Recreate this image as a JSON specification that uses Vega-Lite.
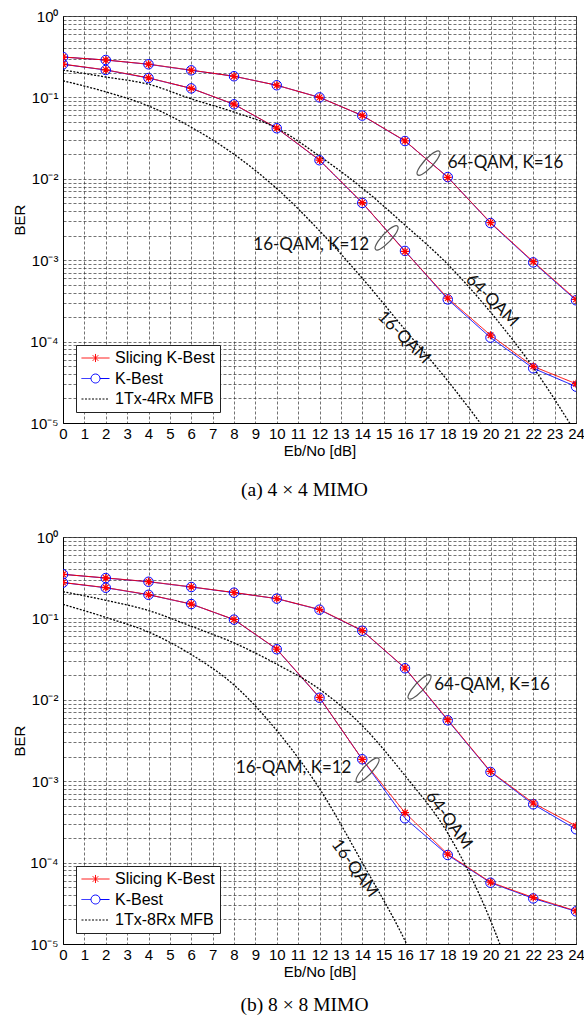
{
  "$schema": "https://vega.github.io/schema/vega-lite/v6.json",
  "background": "white",
  "padding": {"left": 11, "top": 8, "right": 0, "bottom": 0},
  "spacing": 114,
  "bounds": "flush",
  "datasets": {
    "curves": [
      {"panel":"a","series":"K-Best","curve":"64","x":0,"y":0.313},{"panel":"a","series":"K-Best","curve":"64","x":2,"y":0.288},{"panel":"a","series":"K-Best","curve":"64","x":4,"y":0.255},{"panel":"a","series":"K-Best","curve":"64","x":6,"y":0.215},{"panel":"a","series":"K-Best","curve":"64","x":8,"y":0.182},{"panel":"a","series":"K-Best","curve":"64","x":10,"y":0.141},{"panel":"a","series":"K-Best","curve":"64","x":12,"y":0.1},{"panel":"a","series":"K-Best","curve":"64","x":14,"y":0.0598},{"panel":"a","series":"K-Best","curve":"64","x":16,"y":0.0291},{"panel":"a","series":"K-Best","curve":"64","x":18,"y":0.0105},{"panel":"a","series":"K-Best","curve":"64","x":20,"y":0.00286},{"panel":"a","series":"K-Best","curve":"64","x":22,"y":0.00094},{"panel":"a","series":"K-Best","curve":"64","x":24,"y":0.000322},
      {"panel":"a","series":"K-Best","curve":"16","x":0,"y":0.255},{"panel":"a","series":"K-Best","curve":"16","x":2,"y":0.217},{"panel":"a","series":"K-Best","curve":"16","x":4,"y":0.173},{"panel":"a","series":"K-Best","curve":"16","x":6,"y":0.129},{"panel":"a","series":"K-Best","curve":"16","x":8,"y":0.0822},{"panel":"a","series":"K-Best","curve":"16","x":10,"y":0.0418},{"panel":"a","series":"K-Best","curve":"16","x":12,"y":0.0169},{"panel":"a","series":"K-Best","curve":"16","x":14,"y":0.00505},{"panel":"a","series":"K-Best","curve":"16","x":16,"y":0.0013},{"panel":"a","series":"K-Best","curve":"16","x":18,"y":0.00033},{"panel":"a","series":"K-Best","curve":"16","x":20,"y":0.000112},{"panel":"a","series":"K-Best","curve":"16","x":22,"y":0.000047},{"panel":"a","series":"K-Best","curve":"16","x":24,"y":0.000028},
      {"panel":"a","series":"Slicing K-Best","curve":"64","x":0,"y":0.313},{"panel":"a","series":"Slicing K-Best","curve":"64","x":2,"y":0.288},{"panel":"a","series":"Slicing K-Best","curve":"64","x":4,"y":0.256},{"panel":"a","series":"Slicing K-Best","curve":"64","x":6,"y":0.216},{"panel":"a","series":"Slicing K-Best","curve":"64","x":8,"y":0.182},{"panel":"a","series":"Slicing K-Best","curve":"64","x":10,"y":0.141},{"panel":"a","series":"Slicing K-Best","curve":"64","x":12,"y":0.1},{"panel":"a","series":"Slicing K-Best","curve":"64","x":14,"y":0.06},{"panel":"a","series":"Slicing K-Best","curve":"64","x":16,"y":0.0293},{"panel":"a","series":"Slicing K-Best","curve":"64","x":18,"y":0.0104},{"panel":"a","series":"Slicing K-Best","curve":"64","x":20,"y":0.0029},{"panel":"a","series":"Slicing K-Best","curve":"64","x":22,"y":0.00096},{"panel":"a","series":"Slicing K-Best","curve":"64","x":24,"y":0.00033},
      {"panel":"a","series":"Slicing K-Best","curve":"16","x":0,"y":0.256},{"panel":"a","series":"Slicing K-Best","curve":"16","x":2,"y":0.218},{"panel":"a","series":"Slicing K-Best","curve":"16","x":4,"y":0.174},{"panel":"a","series":"Slicing K-Best","curve":"16","x":6,"y":0.129},{"panel":"a","series":"Slicing K-Best","curve":"16","x":8,"y":0.0825},{"panel":"a","series":"Slicing K-Best","curve":"16","x":10,"y":0.042},{"panel":"a","series":"Slicing K-Best","curve":"16","x":12,"y":0.017},{"panel":"a","series":"Slicing K-Best","curve":"16","x":14,"y":0.0051},{"panel":"a","series":"Slicing K-Best","curve":"16","x":16,"y":0.00128},{"panel":"a","series":"Slicing K-Best","curve":"16","x":18,"y":0.000342},{"panel":"a","series":"Slicing K-Best","curve":"16","x":20,"y":0.00012},{"panel":"a","series":"Slicing K-Best","curve":"16","x":22,"y":0.0000496},{"panel":"a","series":"Slicing K-Best","curve":"16","x":24,"y":0.0000304},
      {"panel":"a","series":"1Tx-4Rx MFB","curve":"64","x":0,"y":0.217},{"panel":"a","series":"1Tx-4Rx MFB","curve":"64","x":2,"y":0.178},{"panel":"a","series":"1Tx-4Rx MFB","curve":"64","x":4,"y":0.145},{"panel":"a","series":"1Tx-4Rx MFB","curve":"64","x":6,"y":0.096},{"panel":"a","series":"1Tx-4Rx MFB","curve":"64","x":8,"y":0.066},{"panel":"a","series":"1Tx-4Rx MFB","curve":"64","x":10,"y":0.042},{"panel":"a","series":"1Tx-4Rx MFB","curve":"64","x":12,"y":0.019},{"panel":"a","series":"1Tx-4Rx MFB","curve":"64","x":14,"y":0.0077},{"panel":"a","series":"1Tx-4Rx MFB","curve":"64","x":16,"y":0.0027},{"panel":"a","series":"1Tx-4Rx MFB","curve":"64","x":18,"y":0.00089},{"panel":"a","series":"1Tx-4Rx MFB","curve":"64","x":20,"y":0.00023},{"panel":"a","series":"1Tx-4Rx MFB","curve":"64","x":22,"y":0.000048},{"panel":"a","series":"1Tx-4Rx MFB","curve":"64","x":24,"y":0.0000075},
      {"panel":"a","series":"1Tx-4Rx MFB","curve":"16","x":0,"y":0.16},{"panel":"a","series":"1Tx-4Rx MFB","curve":"16","x":2,"y":0.117},{"panel":"a","series":"1Tx-4Rx MFB","curve":"16","x":4,"y":0.0785},{"panel":"a","series":"1Tx-4Rx MFB","curve":"16","x":6,"y":0.043},{"panel":"a","series":"1Tx-4Rx MFB","curve":"16","x":8,"y":0.02},{"panel":"a","series":"1Tx-4Rx MFB","curve":"16","x":10,"y":0.0076},{"panel":"a","series":"1Tx-4Rx MFB","curve":"16","x":12,"y":0.0023},{"panel":"a","series":"1Tx-4Rx MFB","curve":"16","x":14,"y":0.0006},{"panel":"a","series":"1Tx-4Rx MFB","curve":"16","x":16,"y":0.00014},{"panel":"a","series":"1Tx-4Rx MFB","curve":"16","x":18,"y":0.000033},{"panel":"a","series":"1Tx-4Rx MFB","curve":"16","x":20,"y":0.0000068},
      {"panel":"b","series":"K-Best","curve":"64","x":0,"y":0.348},{"panel":"b","series":"K-Best","curve":"64","x":2,"y":0.313},{"panel":"b","series":"K-Best","curve":"64","x":4,"y":0.282},{"panel":"b","series":"K-Best","curve":"64","x":6,"y":0.243},{"panel":"b","series":"K-Best","curve":"64","x":8,"y":0.207},{"panel":"b","series":"K-Best","curve":"64","x":10,"y":0.175},{"panel":"b","series":"K-Best","curve":"64","x":12,"y":0.128},{"panel":"b","series":"K-Best","curve":"64","x":14,"y":0.0705},{"panel":"b","series":"K-Best","curve":"64","x":16,"y":0.0244},{"panel":"b","series":"K-Best","curve":"64","x":18,"y":0.0056},{"panel":"b","series":"K-Best","curve":"64","x":20,"y":0.0013},{"panel":"b","series":"K-Best","curve":"64","x":22,"y":0.00052},{"panel":"b","series":"K-Best","curve":"64","x":24,"y":0.000257},
      {"panel":"b","series":"K-Best","curve":"16","x":0,"y":0.275},{"panel":"b","series":"K-Best","curve":"16","x":2,"y":0.238},{"panel":"b","series":"K-Best","curve":"16","x":4,"y":0.195},{"panel":"b","series":"K-Best","curve":"16","x":6,"y":0.15},{"panel":"b","series":"K-Best","curve":"16","x":8,"y":0.0965},{"panel":"b","series":"K-Best","curve":"16","x":10,"y":0.0418},{"panel":"b","series":"K-Best","curve":"16","x":12,"y":0.0106},{"panel":"b","series":"K-Best","curve":"16","x":14,"y":0.00186},{"panel":"b","series":"K-Best","curve":"16","x":16,"y":0.00035},{"panel":"b","series":"K-Best","curve":"16","x":18,"y":0.000124},{"panel":"b","series":"K-Best","curve":"16","x":20,"y":0.0000566},{"panel":"b","series":"K-Best","curve":"16","x":22,"y":0.0000363},{"panel":"b","series":"K-Best","curve":"16","x":24,"y":0.0000252},
      {"panel":"b","series":"Slicing K-Best","curve":"64","x":0,"y":0.348},{"panel":"b","series":"Slicing K-Best","curve":"64","x":2,"y":0.314},{"panel":"b","series":"Slicing K-Best","curve":"64","x":4,"y":0.283},{"panel":"b","series":"Slicing K-Best","curve":"64","x":6,"y":0.244},{"panel":"b","series":"Slicing K-Best","curve":"64","x":8,"y":0.208},{"panel":"b","series":"Slicing K-Best","curve":"64","x":10,"y":0.175},{"panel":"b","series":"Slicing K-Best","curve":"64","x":12,"y":0.129},{"panel":"b","series":"Slicing K-Best","curve":"64","x":14,"y":0.071},{"panel":"b","series":"Slicing K-Best","curve":"64","x":16,"y":0.0246},{"panel":"b","series":"Slicing K-Best","curve":"64","x":18,"y":0.0057},{"panel":"b","series":"Slicing K-Best","curve":"64","x":20,"y":0.00132},{"panel":"b","series":"Slicing K-Best","curve":"64","x":22,"y":0.00054},{"panel":"b","series":"Slicing K-Best","curve":"64","x":24,"y":0.000282},
      {"panel":"b","series":"Slicing K-Best","curve":"16","x":0,"y":0.276},{"panel":"b","series":"Slicing K-Best","curve":"16","x":2,"y":0.239},{"panel":"b","series":"Slicing K-Best","curve":"16","x":4,"y":0.196},{"panel":"b","series":"Slicing K-Best","curve":"16","x":6,"y":0.15},{"panel":"b","series":"Slicing K-Best","curve":"16","x":8,"y":0.097},{"panel":"b","series":"Slicing K-Best","curve":"16","x":10,"y":0.042},{"panel":"b","series":"Slicing K-Best","curve":"16","x":12,"y":0.0107},{"panel":"b","series":"Slicing K-Best","curve":"16","x":14,"y":0.00185},{"panel":"b","series":"Slicing K-Best","curve":"16","x":16,"y":0.00041},{"panel":"b","series":"Slicing K-Best","curve":"16","x":18,"y":0.000127},{"panel":"b","series":"Slicing K-Best","curve":"16","x":20,"y":0.0000575},{"panel":"b","series":"Slicing K-Best","curve":"16","x":22,"y":0.0000372},{"panel":"b","series":"Slicing K-Best","curve":"16","x":24,"y":0.0000255},
      {"panel":"b","series":"1Tx-8Rx MFB","curve":"64","x":0,"y":0.213},{"panel":"b","series":"1Tx-8Rx MFB","curve":"64","x":2,"y":0.167},{"panel":"b","series":"1Tx-8Rx MFB","curve":"64","x":4,"y":0.125},{"panel":"b","series":"1Tx-8Rx MFB","curve":"64","x":6,"y":0.08},{"panel":"b","series":"1Tx-8Rx MFB","curve":"64","x":8,"y":0.05},{"panel":"b","series":"1Tx-8Rx MFB","curve":"64","x":10,"y":0.0274},{"panel":"b","series":"1Tx-8Rx MFB","curve":"64","x":12,"y":0.0135},{"panel":"b","series":"1Tx-8Rx MFB","curve":"64","x":14,"y":0.0048},{"panel":"b","series":"1Tx-8Rx MFB","curve":"64","x":16,"y":0.00117},{"panel":"b","series":"1Tx-8Rx MFB","curve":"64","x":18,"y":0.00023},{"panel":"b","series":"1Tx-8Rx MFB","curve":"64","x":20,"y":0.0000195},{"panel":"b","series":"1Tx-8Rx MFB","curve":"64","x":21,"y":0.000004},
      {"panel":"b","series":"1Tx-8Rx MFB","curve":"16","x":0,"y":0.149},{"panel":"b","series":"1Tx-8Rx MFB","curve":"16","x":2,"y":0.103},{"panel":"b","series":"1Tx-8Rx MFB","curve":"16","x":4,"y":0.068},{"panel":"b","series":"1Tx-8Rx MFB","curve":"16","x":6,"y":0.036},{"panel":"b","series":"1Tx-8Rx MFB","curve":"16","x":8,"y":0.0152},{"panel":"b","series":"1Tx-8Rx MFB","curve":"16","x":10,"y":0.0042},{"panel":"b","series":"1Tx-8Rx MFB","curve":"16","x":12,"y":0.00081},{"panel":"b","series":"1Tx-8Rx MFB","curve":"16","x":14,"y":0.0001},{"panel":"b","series":"1Tx-8Rx MFB","curve":"16","x":16,"y":0.000011},{"panel":"b","series":"1Tx-8Rx MFB","curve":"16","x":17,"y":0.000003}
    ],
    "ellipses": [
      {"panel":"a","x":17.1,"y":0.0156},{"panel":"a","x":15.14,"y":0.00188},
      {"panel":"b","x":16.68,"y":0.0144},{"panel":"b","x":14.25,"y":0.00137}
    ],
    "labels": [
      {"panel":"a","kind":"flat","x":20.7,"y":0.0156,"text":"64-QAM, K=16"},
      {"panel":"a","kind":"flat","x":11.61,"y":0.00154,"text":"16-QAM, K=12"},
      {"panel":"a","kind":"tilt","x":20.07,"y":0.00032,"text":"64-QAM"},
      {"panel":"a","kind":"tilt","x":15.95,"y":0.000112,"text":"16-QAM"},
      {"panel":"b","kind":"flat","x":20.07,"y":0.0152,"text":"64-QAM, K=16"},
      {"panel":"b","kind":"flat","x":10.79,"y":0.00147,"text":"16-QAM, K=12"},
      {"panel":"b","kind":"tilt","x":18.05,"y":0.000331,"text":"64-QAM"},
      {"panel":"b","kind":"tilt","x":13.64,"y":0.000085,"text":"16-QAM"}
    ]
  },
  "vconcat": [
    {
      "width": 513, "height": 407,
      "title": {"text": "(a) 4 × 4 MIMO", "orient": "bottom", "anchor": "middle", "dx": -15, "offset": 22, "font": "Liberation Serif", "fontSize": 19.5, "fontWeight": "normal", "color": "#000"},
      "encoding": {
        "x": {"field": "x", "type": "quantitative", "scale": {"domain": [0, 24], "nice": false, "zero": false}, "axis": {"values": [0,1,2,3,4,5,6,7,8,9,10,11,12,13,14,15,16,17,18,19,20,21,22,23,24], "title": "Eb/No [dB]", "grid": true, "labelOverlap": false, "labelFlush": false, "labelBound": false, "format": "d", "titlePadding": 2.5, "labelPadding": 3, "labelFont": "Liberation Sans", "labelFontSize": 15, "titleFont": "Liberation Sans", "titleFontSize": 15, "titleFontWeight": "normal"}},
        "y": {"field": "y", "type": "quantitative", "scale": {"type": "log", "domain": [0.00001, 1], "nice": false}, "axis": {"values": [0.00001,0.00002,0.00003,0.00004,0.00005,0.00006,0.00007,0.00008,0.00009,0.0001,0.0002,0.0003,0.0004,0.0005,0.0006,0.0007,0.0008,0.0009,0.001,0.002,0.003,0.004,0.005,0.006,0.007,0.008,0.009,0.01,0.02,0.03,0.04,0.05,0.06,0.07,0.08,0.09,0.1,0.2,0.3,0.4,0.5,0.6,0.7,0.8,0.9,1], "title": "BER", "grid": true, "labelOverlap": false, "labelExpr": "abs(log(datum.value)/LN10 - round(log(datum.value)/LN10)) < 0.001 ? ['10⁰','10⁻¹','10⁻²','10⁻³','10⁻⁴','10⁻⁵'][-round(log(datum.value)/LN10)] : ''", "titleX": -44, "titleY": 203.5, "titleAlign": "center", "titleBaseline": "middle", "labelFont": "Liberation Sans", "labelFontSize": 15, "titleFont": "Liberation Sans", "titleFontSize": 15, "titleFontWeight": "normal"}}
      },
      "layer": [
        {
          "data": {"name": "curves"},
          "transform": [{"filter": "datum.panel === 'a' && datum.series !== '1Tx-4Rx MFB'"}],
          "mark": {"type": "line", "strokeWidth": 1, "clip": true},
          "encoding": {
            "color": {"field": "series", "type": "nominal", "scale": {"domain": ["Slicing K-Best", "K-Best", "1Tx-4Rx MFB"], "range": ["#ff0000", "#0000ff", "#000000"]}, "legend": {"title": null, "orient": "none", "legendX": 13, "legendY": 329, "direction": "vertical", "labelFont": "Liberation Sans", "labelFontSize": 16, "labelColor": "#000", "symbolSize": 784, "symbolStrokeWidth": 1, "clipHeight": 16, "rowPadding": 4.5, "padding": 5, "labelOffset": 5, "strokeColor": "#222", "fillColor": "#ffffff", "encode": {"symbols": {"update": {"shape": {"signal": "datum.value === 'Slicing K-Best' ? 'M -1 0 L 1 0 M 0 -0.29 L 0 0.29 M -0.2 -0.2 L 0.2 0.2 M -0.2 0.2 L 0.2 -0.2' : datum.value === 'K-Best' ? 'M -1 0 L -0.32 0 M 0.32 0 L 1 0 M 0.32 0 A 0.32 0.32 0 1 1 -0.32 0 A 0.32 0.32 0 1 1 0.32 0' : 'M -1 0 L 1 0'"}, "fill": {"value": "transparent"}}}}}},
            "strokeDash": {"field": "series", "type": "nominal", "scale": {"domain": ["Slicing K-Best", "K-Best", "1Tx-4Rx MFB"], "range": [[1, 0], [1, 0], [2, 1.5]]}, "legend": {"title": null, "orient": "none", "legendX": 13, "legendY": 329}},
            "detail": {"field": "curve"}
          }
        },
        {
          "data": {"name": "curves"},
          "transform": [{"filter": "datum.panel === 'a' && datum.series === '1Tx-4Rx MFB'"}],
          "mark": {"type": "line", "strokeWidth": 1.3, "clip": true, "interpolate": "monotone"},
          "encoding": {
            "color": {"field": "series", "type": "nominal", "scale": {"domain": ["Slicing K-Best", "K-Best", "1Tx-4Rx MFB"], "range": ["#ff0000", "#0000ff", "#000000"]}},
            "strokeDash": {"field": "series", "type": "nominal", "scale": {"domain": ["Slicing K-Best", "K-Best", "1Tx-4Rx MFB"], "range": [[1, 0], [1, 0], [2, 1.5]]}},
            "detail": {"field": "curve"}
          }
        },
        {
          "data": {"name": "curves"},
          "transform": [{"filter": "datum.panel === 'a' && datum.series === 'K-Best'"}],
          "mark": {"type": "point", "shape": "circle", "size": 90, "filled": false, "fill": "transparent", "stroke": "#0000ff", "strokeWidth": 1, "opacity": 1, "clip": true}
        },
        {
          "data": {"name": "curves"},
          "transform": [{"filter": "datum.panel === 'a' && datum.series === 'Slicing K-Best'"}],
          "mark": {"type": "point", "shape": "M -1 0 L 1 0 M 0 -1 L 0 1 M -0.7 -0.7 L 0.7 0.7 M -0.7 0.7 L 0.7 -0.7", "size": 64, "filled": false, "stroke": "#ff0000", "strokeWidth": 1.2, "opacity": 1, "clip": true}
        },
        {
          "data": {"name": "ellipses"},
          "transform": [{"filter": "datum.panel === 'a'"}],
          "mark": {"type": "point", "shape": "M -0.682 0.731 A 1 0.28 -47 1 1 0.682 -0.731 A 1 0.28 -47 1 1 -0.682 0.731 Z", "size": 1024, "filled": false, "fill": "transparent", "stroke": "#555", "strokeWidth": 1.2, "opacity": 1}
        },
        {
          "data": {"name": "labels"},
          "transform": [{"filter": "datum.panel === 'a' && datum.kind === 'flat'"}],
          "mark": {"type": "text", "font": "Lato", "fontSize": 17, "color": "#111", "align": "center", "baseline": "middle"},
          "encoding": {"text": {"field": "text"}}
        },
        {
          "data": {"name": "labels"},
          "transform": [{"filter": "datum.panel === 'a' && datum.kind === 'tilt'"}],
          "mark": {"type": "text", "font": "Lato", "fontSize": 17, "color": "#111", "align": "center", "baseline": "middle", "angle": 45},
          "encoding": {"text": {"field": "text"}}
        }
      ]
    },
    {
      "width": 513, "height": 407,
      "title": {"text": "(b) 8 × 8 MIMO", "orient": "bottom", "anchor": "middle", "dx": -15, "offset": 16, "font": "Liberation Serif", "fontSize": 19.5, "fontWeight": "normal", "color": "#000"},
      "encoding": {
        "x": {"field": "x", "type": "quantitative", "scale": {"domain": [0, 24], "nice": false, "zero": false}, "axis": {"values": [0,1,2,3,4,5,6,7,8,9,10,11,12,13,14,15,16,17,18,19,20,21,22,23,24], "title": "Eb/No [dB]", "grid": true, "labelOverlap": false, "labelFlush": false, "labelBound": false, "format": "d", "titlePadding": 2.5, "labelPadding": 3, "labelFont": "Liberation Sans", "labelFontSize": 15, "titleFont": "Liberation Sans", "titleFontSize": 15, "titleFontWeight": "normal"}},
        "y": {"field": "y", "type": "quantitative", "scale": {"type": "log", "domain": [0.00001, 1], "nice": false}, "axis": {"values": [0.00001,0.00002,0.00003,0.00004,0.00005,0.00006,0.00007,0.00008,0.00009,0.0001,0.0002,0.0003,0.0004,0.0005,0.0006,0.0007,0.0008,0.0009,0.001,0.002,0.003,0.004,0.005,0.006,0.007,0.008,0.009,0.01,0.02,0.03,0.04,0.05,0.06,0.07,0.08,0.09,0.1,0.2,0.3,0.4,0.5,0.6,0.7,0.8,0.9,1], "title": "BER", "grid": true, "labelOverlap": false, "labelExpr": "abs(log(datum.value)/LN10 - round(log(datum.value)/LN10)) < 0.001 ? ['10⁰','10⁻¹','10⁻²','10⁻³','10⁻⁴','10⁻⁵'][-round(log(datum.value)/LN10)] : ''", "titleX": -44, "titleY": 203.5, "titleAlign": "center", "titleBaseline": "middle", "labelFont": "Liberation Sans", "labelFontSize": 15, "titleFont": "Liberation Sans", "titleFontSize": 15, "titleFontWeight": "normal"}}
      },
      "layer": [
        {
          "data": {"name": "curves"},
          "transform": [{"filter": "datum.panel === 'b' && datum.series !== '1Tx-8Rx MFB'"}],
          "mark": {"type": "line", "strokeWidth": 1, "clip": true},
          "encoding": {
            "color": {"field": "series", "type": "nominal", "scale": {"domain": ["Slicing K-Best", "K-Best", "1Tx-8Rx MFB"], "range": ["#ff0000", "#0000ff", "#000000"]}, "legend": {"title": null, "orient": "none", "legendX": 13, "legendY": 329, "direction": "vertical", "labelFont": "Liberation Sans", "labelFontSize": 16, "labelColor": "#000", "symbolSize": 784, "symbolStrokeWidth": 1, "clipHeight": 16, "rowPadding": 4.5, "padding": 5, "labelOffset": 5, "strokeColor": "#222", "fillColor": "#ffffff", "encode": {"symbols": {"update": {"shape": {"signal": "datum.value === 'Slicing K-Best' ? 'M -1 0 L 1 0 M 0 -0.29 L 0 0.29 M -0.2 -0.2 L 0.2 0.2 M -0.2 0.2 L 0.2 -0.2' : datum.value === 'K-Best' ? 'M -1 0 L -0.32 0 M 0.32 0 L 1 0 M 0.32 0 A 0.32 0.32 0 1 1 -0.32 0 A 0.32 0.32 0 1 1 0.32 0' : 'M -1 0 L 1 0'"}, "fill": {"value": "transparent"}}}}}},
            "strokeDash": {"field": "series", "type": "nominal", "scale": {"domain": ["Slicing K-Best", "K-Best", "1Tx-8Rx MFB"], "range": [[1, 0], [1, 0], [2, 1.5]]}, "legend": {"title": null, "orient": "none", "legendX": 13, "legendY": 329}},
            "detail": {"field": "curve"}
          }
        },
        {
          "data": {"name": "curves"},
          "transform": [{"filter": "datum.panel === 'b' && datum.series === '1Tx-8Rx MFB'"}],
          "mark": {"type": "line", "strokeWidth": 1.3, "clip": true, "interpolate": "monotone"},
          "encoding": {
            "color": {"field": "series", "type": "nominal", "scale": {"domain": ["Slicing K-Best", "K-Best", "1Tx-8Rx MFB"], "range": ["#ff0000", "#0000ff", "#000000"]}},
            "strokeDash": {"field": "series", "type": "nominal", "scale": {"domain": ["Slicing K-Best", "K-Best", "1Tx-8Rx MFB"], "range": [[1, 0], [1, 0], [2, 1.5]]}},
            "detail": {"field": "curve"}
          }
        },
        {
          "data": {"name": "curves"},
          "transform": [{"filter": "datum.panel === 'b' && datum.series === 'K-Best'"}],
          "mark": {"type": "point", "shape": "circle", "size": 90, "filled": false, "fill": "transparent", "stroke": "#0000ff", "strokeWidth": 1, "opacity": 1, "clip": true}
        },
        {
          "data": {"name": "curves"},
          "transform": [{"filter": "datum.panel === 'b' && datum.series === 'Slicing K-Best'"}],
          "mark": {"type": "point", "shape": "M -1 0 L 1 0 M 0 -1 L 0 1 M -0.7 -0.7 L 0.7 0.7 M -0.7 0.7 L 0.7 -0.7", "size": 64, "filled": false, "stroke": "#ff0000", "strokeWidth": 1.2, "opacity": 1, "clip": true}
        },
        {
          "data": {"name": "ellipses"},
          "transform": [{"filter": "datum.panel === 'b'"}],
          "mark": {"type": "point", "shape": "M -0.682 0.731 A 1 0.28 -47 1 1 0.682 -0.731 A 1 0.28 -47 1 1 -0.682 0.731 Z", "size": 1024, "filled": false, "fill": "transparent", "stroke": "#555", "strokeWidth": 1.2, "opacity": 1}
        },
        {
          "data": {"name": "labels"},
          "transform": [{"filter": "datum.panel === 'b' && datum.kind === 'flat'"}],
          "mark": {"type": "text", "font": "Lato", "fontSize": 17, "color": "#111", "align": "center", "baseline": "middle"},
          "encoding": {"text": {"field": "text"}}
        },
        {
          "data": {"name": "labels"},
          "transform": [{"filter": "datum.panel === 'b' && datum.kind === 'tilt'"}],
          "mark": {"type": "text", "font": "Lato", "fontSize": 17, "color": "#111", "align": "center", "baseline": "middle", "angle": 54},
          "encoding": {"text": {"field": "text"}}
        }
      ]
    }
  ],
  "resolve": {"scale": {"color": "independent", "strokeDash": "independent"}, "legend": {"color": "independent", "strokeDash": "independent"}},
  "config": {
    "view": {"stroke": "#555", "strokeWidth": 1},
    "axis": {"labelFont": "Liberation Sans", "labelFontSize": 15, "labelColor": "#000", "titleFont": "Liberation Sans", "titleFontSize": 15, "titleFontWeight": "normal", "titleColor": "#000", "ticks": false, "labelPadding": 5, "labelOverlap": false, "domainColor": "#000", "domainWidth": 1, "gridColor": "#222", "gridDash": [3, 2], "gridOpacity": 0.8, "gridWidth": 0.8},
    "axisX": {"labelOverlap": false},
    "axisQuantitative": {"labelOverlap": false}
  }
}
